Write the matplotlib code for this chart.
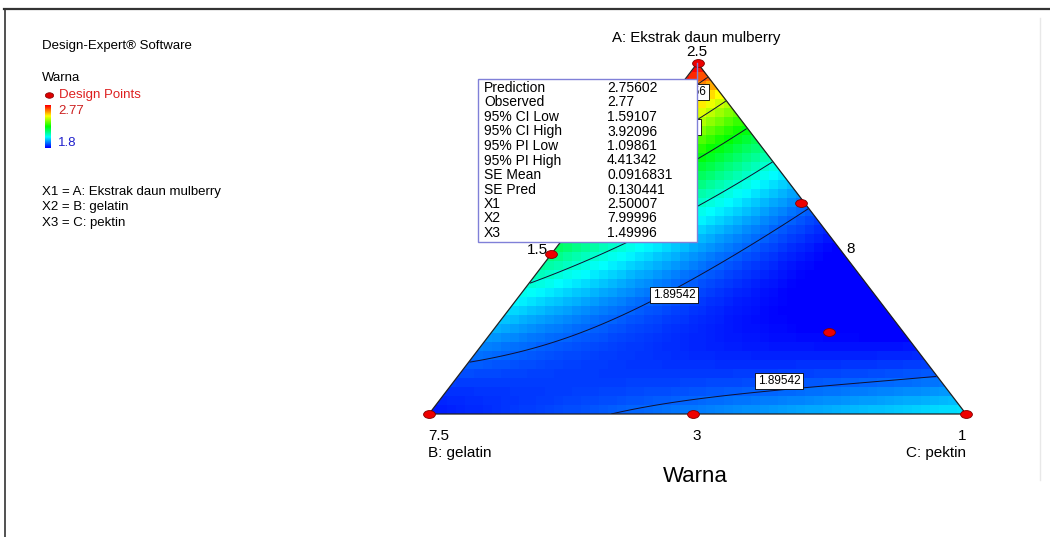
#!/usr/bin/env python3
"""
Ternary contour plot of 'Warna' (Design-Expert style mixture plot).
"""

import numpy as np
import matplotlib
matplotlib.use("Agg")
import matplotlib.pyplot as plt
from matplotlib.colors import LinearSegmentedColormap
from matplotlib.path import Path
from matplotlib.patches import Polygon
from matplotlib.transforms import Affine2D

plt.rcParams['font.family'] = ['Liberation Sans', 'DejaVu Sans']

# --- readings of the surface (pseudo-components: a = A, c = C, b = 1 - a - c)
a_read = [1.000, 0.000, 0.000, 0.456, 0.600, 0.234, 0.000, 0.154, 0.174, 0.219,
          0.288, 0.353, 0.447, 0.544, 0.000, 0.040, 0.068, 0.074, 0.083, 0.091,
          0.373, 0.410, 0.481, 0.595, 0.724, 0.724, 0.806, 0.838, 0.880, 0.935,
          0.410, 0.068, 0.300]
c_read = [0.000, 0.000, 1.000, 0.000, 0.400, 0.628, 0.490, 0.000, 0.082, 0.184,
          0.243, 0.278, 0.318, 0.363, 0.380, 0.429, 0.508, 0.566, 0.743, 0.902,
          0.000, 0.052, 0.128, 0.201, 0.270, 0.137, 0.191, 0.080, 0.117, 0.040,
          0.540, 0.098, 0.700]
warna_read = [2.756, 1.830, 2.040, 2.170, 1.895, 1.790, 1.920, 1.895, 1.895, 1.895,
              1.895, 1.895, 1.895, 1.895, 1.895, 1.895, 1.895, 1.895, 1.895, 1.895,
              2.088, 2.088, 2.088, 2.088, 2.088, 2.281, 2.281, 2.473, 2.473, 2.666,
              1.800, 1.840, 1.800]

# design points
a_pts = [1.000, 0.456, 0.600, 0.234, 0.000, 0.000, 0.000]
c_pts = [0.000, 0.000, 0.392, 0.628, 0.000, 0.492, 1.000]

levels = [1.89542, 2.08796, 2.2805, 2.47304, 2.66556]
level_labels = ["1.89542", "2.08796", "2.2805", "2.47304", "2.66556"]

vmin, vmax = 1.8, 2.77

pred_names = ["Prediction", "Observed", "95% CI Low", "95% CI High", "95% PI Low",
              "95% PI High", "SE Mean", "SE Pred", "X1", "X2", "X3"]
pred_values = ["2.75602", "2.77", "1.59107", "3.92096", "1.09861", "4.41342",
               "0.0916831", "0.130441", "2.50007", "7.99996", "1.49996"]


def basis(a, b, c):
    return np.stack([a, b, c, a * b, a * c, b * c,
                     a * b * (a - b), a * c * (a - c), b * c * (b - c), a * b * c], axis=-1)


a_r = np.array(a_read)
c_r = np.array(c_read)
coef, *_ = np.linalg.lstsq(basis(a_r, 1 - a_r - c_r, c_r), np.array(warna_read), rcond=None)

W, H = 1050, 537
fig = plt.figure(figsize=(W / 100, H / 100), dpi=100)
fig.patch.set_facecolor('white')

# triangle axes: x = c + a/2, y = a
ax = fig.add_axes([429 / W, (H - 414) / H, 537 / W, 351 / H])
ax.set_xlim(0, 1)
ax.set_ylim(0, 1)
ax.axis('off')

cmap = LinearSegmentedColormap.from_list(
    'de', ['#0000ff', '#00ffff', '#00ff00', '#ffff00', '#ff0000'])

# blocky colour grid
nx, ny = 60, 39
xe = np.linspace(0, 1, nx + 1)
ye = np.linspace(0, 1, ny + 1)
xc, yc = np.meshgrid((xe[:-1] + xe[1:]) / 2, (ye[:-1] + ye[1:]) / 2)
ag = np.clip(yc, 0, 1)
cg = np.clip(xc - ag / 2, 0, 1 - ag)
bg = 1 - ag - cg
zg = basis(ag, bg, cg) @ coef
tri = Polygon([[0, 0], [1, 0], [0.5, 1]], closed=True, transform=ax.transData,
              facecolor='none', edgecolor='none')
ax.add_patch(tri)
mesh = ax.pcolormesh(xe, ye, zg, cmap=cmap, vmin=vmin, vmax=vmax, shading='flat')
mesh.set_clip_path(tri)

# smooth field for contour lines
xs, ys = np.meshgrid(np.linspace(0, 1, 400), np.linspace(0, 1, 300))
cs_ = xs - ys / 2
inside = (cs_ >= -1e-9) & (cs_ <= 1 - ys + 1e-9)
zs = basis(ys, 1 - ys - cs_, cs_) @ coef
zs = np.ma.masked_where(~inside, zs)
cont = ax.contour(xs, ys, zs, levels=levels, colors='#101030', linewidths=0.7)
cont.set_clip_path(tri)

ax.plot([0, 1, 0.5, 0], [0, 0, 1, 0], color='#202020', lw=0.9, clip_on=False)

# contour labels (white boxes)
box = dict(boxstyle='square,pad=0.2', facecolor='white', edgecolor='black', lw=0.6)


def px2ax(px, py):
    return (px - 429) / 537, (414 - py) / 351


for (px, py), lab in [((674, 295), level_labels[0]), ((779, 381), level_labels[0]),
                      ((685, 92), level_labels[4]), ((677, 127), level_labels[3])]:
    x, y = px2ax(px, py)
    ax.text(x, y, lab, fontsize=8.5, ha='center', va='center', bbox=box, zorder=5)

# design points (ellipse markers)
ell = Path.unit_circle().transformed(Affine2D().scale(1.5, 1.0))
pa = np.array(a_pts)
pc = np.array(c_pts)
ax.plot(pc + pa / 2, pa, linestyle='none', marker=ell, markersize=8.5,
        markerfacecolor='#ee0000', markeredgecolor='#800000', markeredgewidth=0.6,
        clip_on=False, zorder=6)

# overlay in pixel coordinates
ov = fig.add_axes([0, 0, 1, 1])
ov.set_xlim(0, W)
ov.set_ylim(H, 0)
ov.axis('off')

# frame
ov.plot([4, W], [8.5, 8.5], color='#333333', lw=1.6)
ov.plot([5, 5], [8.5, H], color='#333333', lw=1.2)
ov.plot([1040, 1040], [18, 480], color='#e8e8e8', lw=1.0)

# left legend
fs = 9.5
ov.text(42, 46, "Design-Expert® Software", fontsize=fs, va='center')
ov.text(42, 78, "Warna", fontsize=fs, va='center')
ov.plot([49], [95], marker=ell, markersize=6, color='#dd0000', markeredgecolor='#800000',
        markeredgewidth=0.5, linestyle='none')
ov.text(59, 95, "Design Points", fontsize=fs, va='center', color='#dd2020')
grad = np.linspace(1, 0, 50).reshape(-1, 1)
ov.imshow(grad, cmap=cmap, extent=(45, 51, 148, 105), aspect='auto', zorder=2)
ov.text(58, 111, "2.77", fontsize=fs, va='center', color='#cc2020')
ov.text(58, 143, "1.8", fontsize=fs, va='center', color='#2020cc')
ov.text(42, 192, "X1 = A: Ekstrak daun mulberry", fontsize=fs, va='center')
ov.text(42, 207, "X2 = B: gelatin", fontsize=fs, va='center')
ov.text(42, 223, "X3 = C: pektin", fontsize=fs, va='center')

# triangle annotations
fs2 = 11
ov.text(696, 38, "A: Ekstrak daun mulberry", fontsize=10.8, ha='center', va='center')
ov.text(697, 52, "2.5", fontsize=fs2, ha='center', va='center')
ov.text(548, 250, "1.5", fontsize=fs2, ha='right', va='center')
ov.text(851, 249, "8", fontsize=fs2, ha='center', va='center')
ov.text(428, 436, "7.5", fontsize=fs2, ha='left', va='center')
ov.text(428, 453, "B: gelatin", fontsize=fs2, ha='left', va='center')
ov.text(697, 436, "3", fontsize=fs2, ha='center', va='center')
ov.text(966, 436, "1", fontsize=fs2, ha='right', va='center')
ov.text(966, 453, "C: pektin", fontsize=fs2, ha='right', va='center')
ov.text(695, 476, "Warna", fontsize=16, ha='center', va='center')

# prediction box
ov.add_patch(plt.Rectangle((478, 79), 219, 163, facecolor='white',
                           edgecolor='#8080d8', lw=1.0, zorder=8))
ov.plot([697, 697], [63, 79], color='#8080d8', lw=1.0, zorder=8)
for i, (name, val) in enumerate(zip(pred_names, pred_values)):
    y = 88 + i * 14.5
    ov.text(484, y, name, fontsize=10, va='center', zorder=9)
    ov.text(607, y, val, fontsize=10, va='center', zorder=9)

fig.savefig("out.png", dpi=100)
